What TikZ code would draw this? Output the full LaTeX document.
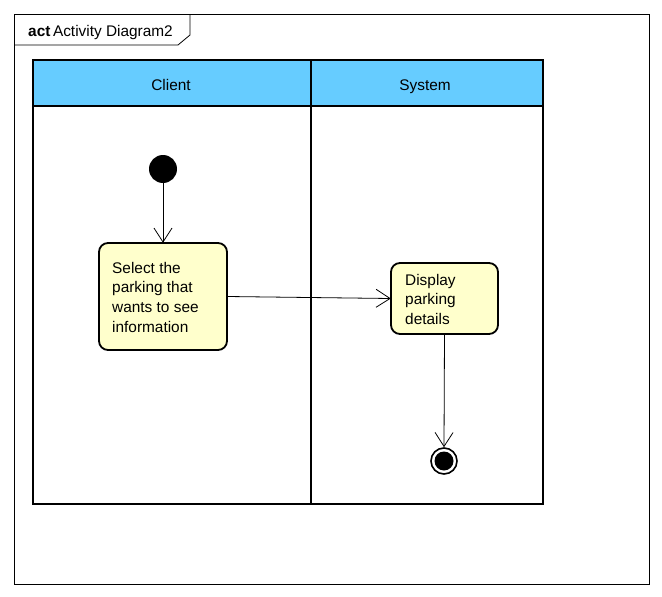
\documentclass[tikz,border=0pt]{standalone}
\usepackage{fontspec}
\setmainfont{Liberation Sans}
\usetikzlibrary{arrows.meta}
\definecolor{laneblue}{HTML}{66CCFF}
\definecolor{actfill}{HTML}{FFFFCC}
\begin{document}
\begin{tikzpicture}[x=1pt,y=-1pt,
  font=\fontsize{15.4}{19.6}\selectfont,
  frame/.style={draw=black,line width=0.8pt},
  lane/.style={draw=black,line width=1.8pt},
  action/.style={draw=black,line width=1.8pt,fill=actfill,rounded corners=9pt},
  label/.style={anchor=base west,inner sep=0pt,align=left},
  flow/.style={draw=black,line width=0.8pt,-{Straight Barb[length=14pt,width=18pt,line width=0.8pt]}}]
  \useasboundingbox (0,0) rectangle (662,597);
  \fill[white] (0,0) rectangle (662,597);
  % diagram frame with its name tab
  \draw[frame] (14,14) rectangle (649,584);
  \draw[frame] (14,45) -- (178,45) -- (190,35) -- (190,14);
  \node[anchor=base west,inner sep=0pt] (title) at (28,36.5) {\textbf{act}\,Activity Diagram2};
  % swimlanes
  \fill[laneblue] (33,60) rectangle (543,106);
  \draw[lane] (33,60) rectangle (543,504);
  \draw[lane] (33,106) -- (543,106);
  \draw[lane] (311,60) -- (311,504);
  \node[anchor=base] (client) at (171,90.5) {Client};
  \node[anchor=base] (system) at (425,90.5) {System};
  % nodes
  \node[circle,fill=black,minimum size=28pt,inner sep=0pt] (start) at (163,169) {};
  \draw[action] (99,243) rectangle (227,350);
  \node[minimum width=128pt,minimum height=107pt,inner sep=0pt] (a1) at (163,296.5) {};
  \node[label] (t1) at (112,332)
    {Select the\\parking that\\wants to see\\information};
  \draw[action] (391,263) rectangle (498,334);
  \node[minimum width=107pt,minimum height=71pt,inner sep=0pt] (a2) at (444.5,298.5) {};
  \node[label] (t2) at (405,324.5)
    {Display\\parking\\details};
  \node[circle,draw=black,line width=1.6pt,fill=white,minimum size=26pt,inner sep=0pt] (end) at (444,461) {};
  \fill[black] (end.center) circle (9.5pt);
  % control flows
  \draw[flow] (start) -- (a1.north);
  \draw[flow] (a1.east) -- (a2.west);
  \draw[flow] (a2.south) -- (end.north);
\end{tikzpicture}
\end{document}
